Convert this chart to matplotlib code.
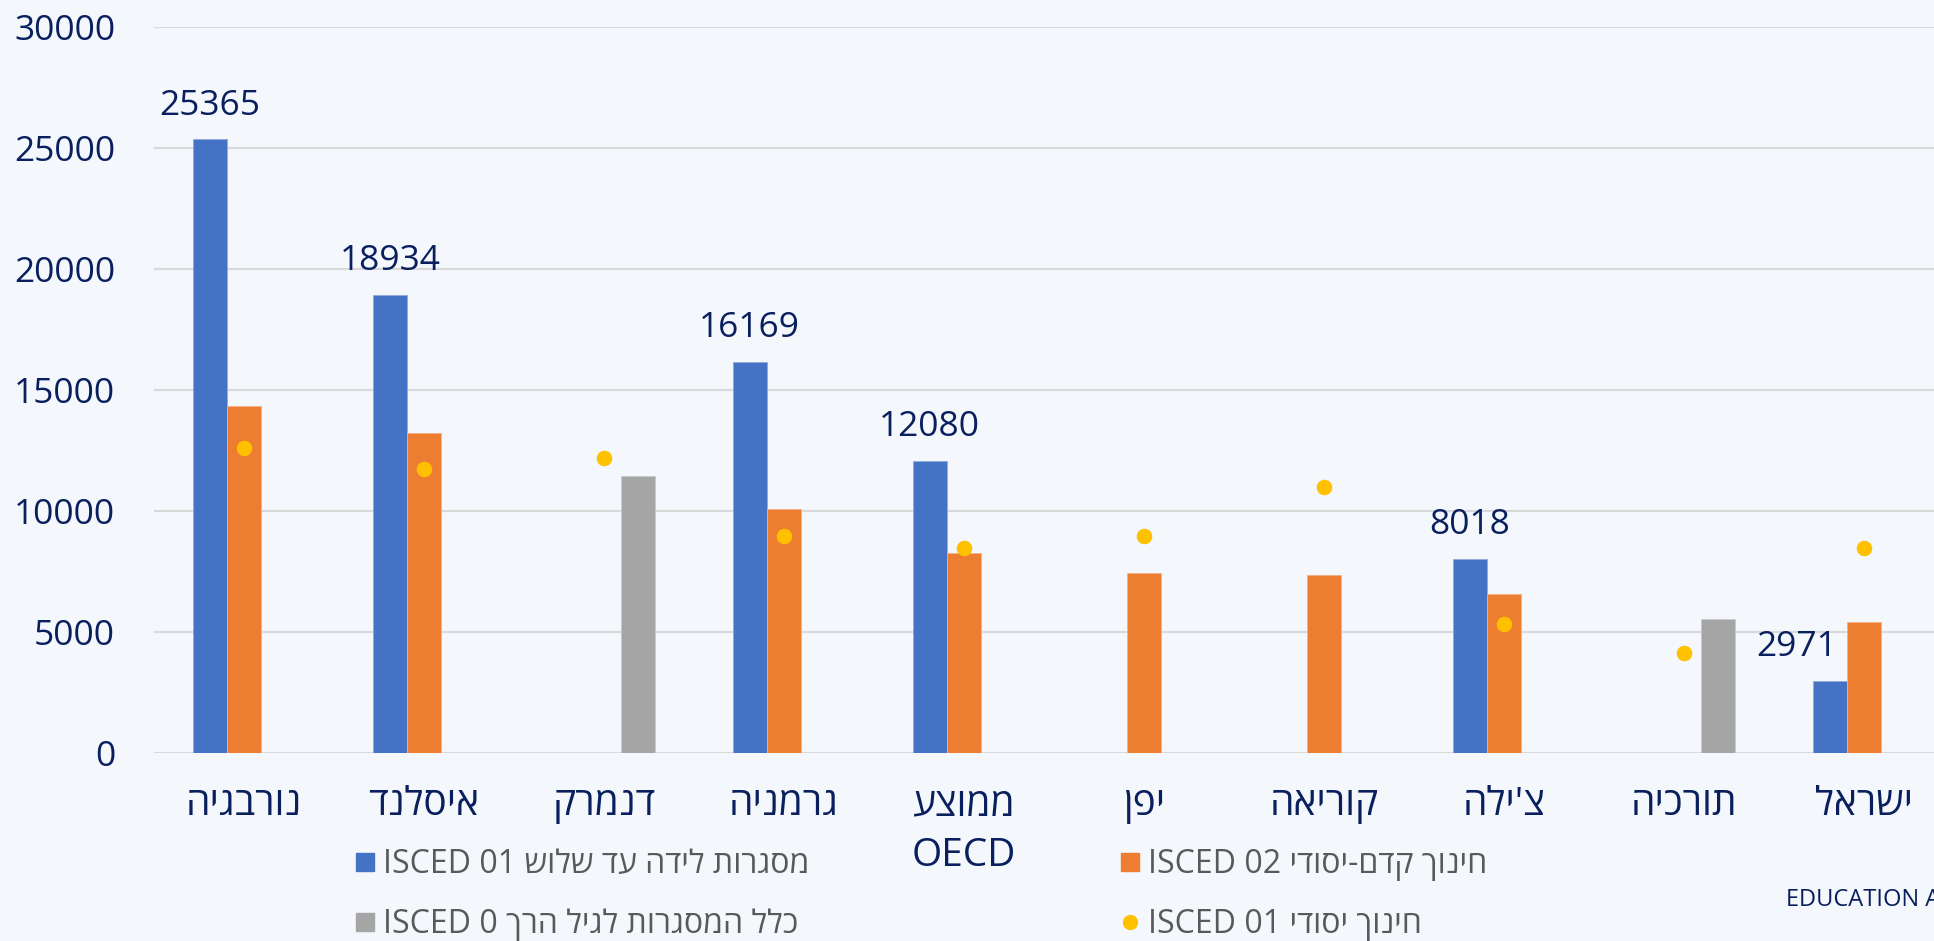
import re
import numpy as np
import matplotlib
matplotlib.use("Agg")
import matplotlib.pyplot as plt
from matplotlib.lines import Line2D

# data
countries = ["נורבגיה", "איסלנד", "דנמרק", "גרמניה", "ממוצע\nOECD",
             "יפן", "קוריאה", "צ'ילה", "תורכיה", "ישראל"]
isced01 = [25365, 18934, np.nan, 16169, 12080, np.nan, np.nan, 8018, np.nan, 2971]
isced02 = [14340, 13220, np.nan, 10080, 8280, 7450, 7340, 6570, np.nan, 5430]
isced0 = [np.nan, np.nan, 11450, np.nan, np.nan, np.nan, np.nan, np.nan, 5520, np.nan]
primary = [12600, 11740, 12190, 8950, 8490, 8960, 11000, 5330, 4120, 8460]
yticks = [0, 5000, 10000, 15000, 20000, 25000, 30000]

lab01 = "מסגרות לידה עד שלוש ISCED 01"
lab02 = "חינוך קדם-יסודי ISCED 02"
lab0 = "כלל המסגרות לגיל הרך ISCED 0"
lab_prim = "חינוך יסודי ISCED 01"
footer = "EDUCATION A"

BLUE = "#4472C4"
ORANGE = "#ED7D31"
GRAY = "#A5A5A5"
YELLOW = "#FFC000"
NAVY = "#0A1F5E"
BG = "#F4F8FC"


def visual(text):
    # matplotlib draws left to right, so put the hebrew runs in visual order
    out = []
    for line in text.split("\n"):
        if not re.search("[\u0590-\u05FF]", line):
            out.append(line)
            continue
        toks = re.findall(r"[A-Za-z0-9]+(?: [A-Za-z0-9]+)*|[^A-Za-z0-9]+", line)
        toks = toks[::-1]
        toks = [t if re.match("[A-Za-z0-9]", t) else t[::-1] for t in toks]
        out.append("".join(toks).strip())
    return "\n".join(out)


plt.rcParams["font.family"] = ["Open Sans", "DejaVu Sans"]

fig = plt.figure(figsize=(19.34, 9.41), dpi=100)
fig.patch.set_facecolor(BG)
ax = fig.add_axes([154 / 1934, 1 - 753 / 941, 1 - 154 / 1934, (753 - 27) / 941])
ax.set_facecolor(BG)

x = np.arange(len(countries))
w = 0.19

ax.bar(x - w, isced01, w, color=BLUE, edgecolor="#8FAADC", linewidth=0.6, zorder=2)
ax.bar(x, isced02, w, color=ORANGE, edgecolor="#F4B183", linewidth=0.6, zorder=2)
ax.bar(x + w, isced0, w, color=GRAY, edgecolor="#C9C9C9", linewidth=0.6, zorder=2)
ax.scatter(x, primary, s=125, color=YELLOW, zorder=3, linewidths=0)

for i, v in enumerate(isced01):
    if np.isnan(v):
        continue
    dx = -24 if i == len(isced01) - 1 else 0
    ax.annotate(f"{v}", (x[i] - w, v), xytext=(dx, 12), textcoords="offset points",
                ha="center", va="bottom", fontsize=25.5, color=NAVY, zorder=4)

ax.set_xlim(-0.5, 9.39)
ax.set_ylim(0, 30000)
ax.set_yticks(yticks)
ax.set_yticklabels([str(t) for t in yticks], fontsize=25.5, color=NAVY)
ax.set_xticks(x)
ax.set_xticklabels([visual(c) for c in countries], fontsize=28, color=NAVY,
                   linespacing=1.45)
ax.tick_params(axis="both", length=0)
ax.tick_params(axis="y", pad=28)
ax.tick_params(axis="x", pad=24)

ax.yaxis.grid(True, color="#D9D9D9", linewidth=1.6)
ax.set_axisbelow(True)
for s in ax.spines.values():
    s.set_visible(False)

# legend, two columns placed separately
h_blue = Line2D([], [], marker="s", ls="none", color=BLUE, markersize=13)
h_gray = Line2D([], [], marker="s", ls="none", color=GRAY, markersize=13)
h_orange = Line2D([], [], marker="s", ls="none", color=ORANGE, markersize=13)
h_yel = Line2D([], [], marker="o", ls="none", color=YELLOW, markersize=10)

leg_kw = dict(frameon=False, fontsize=23, labelcolor="#595959", handlelength=0.66,
              handletextpad=0.25, labelspacing=0.85, borderpad=0, borderaxespad=0,
              loc="upper left")
fig.legend([h_blue, h_gray], [visual(lab01), visual(lab0)],
           bbox_to_anchor=(354 / 1934, 1 - 848 / 941), **leg_kw)
fig.legend([h_orange, h_yel], [visual(lab02), visual(lab_prim)],
           bbox_to_anchor=(1119 / 1934, 1 - 848 / 941), **leg_kw)

fig.text(1786 / 1934, 1 - 900 / 941, footer, fontsize=17, color=NAVY,
         ha="left", va="center")

fig.savefig("out.png", dpi=100, facecolor=BG)
